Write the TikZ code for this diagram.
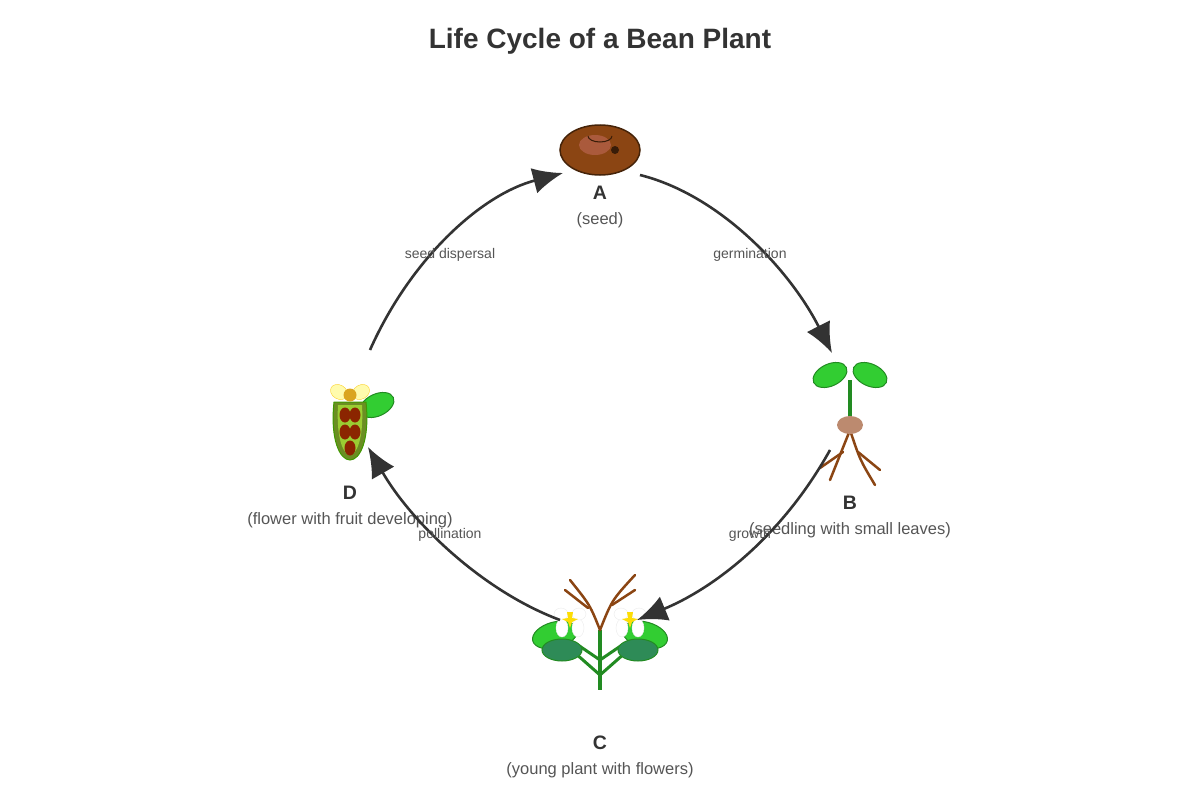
\documentclass[tikz,border=0pt]{standalone}
\usepackage{fontspec}
\setmainfont{Liberation Sans}
\usetikzlibrary{arrows.meta}
\definecolor{dk}{HTML}{333333}
\definecolor{gr}{HTML}{555555}
\definecolor{lg}{HTML}{32CD32}
\definecolor{sg}{HTML}{228B22}
\definecolor{dg}{HTML}{2E8B57}
\definecolor{br}{HTML}{8B4513}
\begin{document}
\begin{tikzpicture}[x=1pt,y=-1pt,
  cyc/.style={draw=dk,line width=2.6pt,-{Latex[length=30pt,width=26pt]}},
  lab/.style={text=gr,font=\fontsize{14}{16}\selectfont},
  let/.style={text=dk,font=\bfseries\fontsize{19.5}{22}\selectfont},
  desc/.style={text=gr,font=\fontsize{16.5}{19}\selectfont},
  leaf/.style={fill=lg,draw=sg,line width=1pt},
  dleaf/.style={fill=dg,draw=sg,line width=1pt},
  stem/.style={draw=sg,line width=4pt},
  root/.style={draw=br,line width=2.5pt,line cap=round}]
\useasboundingbox (0,0) rectangle (1200,800);
\node[text=dk,font=\bfseries\fontsize{28}{32}\selectfont] (title) at (600,41) {Life Cycle of a Bean Plant};
% Seed A
\fill[br,draw=black!50!br,line width=1.5pt] (600,150) ellipse [x radius=40,y radius=25];
\fill[color={rgb,255:red,170;green,90;blue,60}] (595,145) ellipse [x radius=16,y radius=10];
\fill[black!60!br] (615,150) circle (4);
\draw[black!60!br,line width=1pt] (588,136) arc (180:0:12 and 6);
\coordinate (a1) at (640,175); \coordinate (a2) at (563,173);
\node[let] (A) at (600,193) {A};
\node[desc] (Ad) at (600,220) {(seed)};
% Seedling B
\draw[stem] (850,380) -- (850,425);
\draw[leaf,rotate around={25:(830,375)}] (830,375) ellipse [x radius=18,y radius=11];
\draw[leaf,rotate around={-25:(870,375)}] (870,375) ellipse [x radius=18,y radius=11];
\draw[root] (850,430) -- (840,455) -- (830,480);
\draw[root] (850,430) .. controls (860,460) .. (875,485);
\draw[root] (843,452) -- (820,468);
\draw[root] (858,452) -- (880,470);
\fill[color={rgb,255:red,188;green,138;blue,111}] (850,425) ellipse [x radius=13,y radius=9];
\coordinate (b1) at (832,353); \coordinate (b2) at (830,450);
\node[let] (B) at (850,503) {B};
\node[desc] (Bd) at (850,530) {(seedling with small leaves)};
% Plant C
\draw[stem] (600,630) -- (600,690);
\draw[draw=sg,line width=3pt] (600,675) -- (575,653) (600,675) -- (625,653) (600,660) -- (578,645) (600,660) -- (622,645);
\draw[leaf,rotate around={15:(555,635)}] (555,635) ellipse [x radius=23,y radius=13];
\draw[leaf,rotate around={-15:(645,635)}] (645,635) ellipse [x radius=23,y radius=13];
\draw[dleaf] (562,650) ellipse [x radius=20,y radius=11];
\draw[dleaf] (638,650) ellipse [x radius=20,y radius=11];
\draw[root] (600,630) .. controls (590,605) .. (570,580);
\draw[root] (600,630) .. controls (612,600) .. (635,575);
\draw[root] (588,608) -- (565,590);
\draw[root] (612,605) -- (635,590);
\foreach \fx in {570,630}{
  \fill[white,draw=black!8] (\fx-8,628) ellipse [x radius=6,y radius=9];
  \fill[white,draw=black!8] (\fx+8,628) ellipse [x radius=6,y radius=9];
  \fill[white,draw=black!8] (\fx-9,614) ellipse [x radius=7,y radius=6];
  \fill[white,draw=black!8] (\fx+9,614) ellipse [x radius=7,y radius=6];
  \fill[yellow!80!orange] (\fx-3,612) -- (\fx+3,612) -- (\fx+2,618) -- (\fx+8,619) -- (\fx+2,622) -- (\fx,628) -- (\fx-2,622) -- (\fx-8,619) -- (\fx-2,618) -- cycle;
}
\coordinate (c1) at (637,620); \coordinate (c2) at (560,620);
\node[let] (C) at (600,743) {C};
\node[desc] (Cd) at (600,770) {(young plant with flowers)};
% D
\draw[leaf,rotate around={25:(377,405)}] (377,405) ellipse [x radius=18,y radius=11];
\fill[color={rgb,255:red,107;green,142;blue,35},draw=black!30!green!50!olive,line width=1pt] (334,402) .. controls (330,440) and (340,460) .. (350,460) .. controls (360,460) and (370,440) .. (366,402) -- cycle;
\fill[color={rgb,255:red,154;green,205;blue,50}] (338,405) .. controls (336,440) and (344,455) .. (350,455) .. controls (356,455) and (364,440) .. (362,405) -- cycle;
\foreach \sx/\sy in {345/415,355/415,345/432,355/432,350/448}
  \fill[color={rgb,255:red,139;green,37;blue,0}] (\sx,\sy) ellipse [x radius=5.5,y radius=7.5];
\fill[yellow!40,draw=yellow!60!orange,opacity=0.8,rotate around={-30:(339,392)}] (339,392) ellipse [x radius=9,y radius=7];
\fill[yellow!40,draw=yellow!60!orange,opacity=0.8,rotate around={30:(361,392)}] (361,392) ellipse [x radius=9,y radius=7];
\fill[color={rgb,255:red,218;green,165;blue,32}] (350,395) circle (6.5);
\coordinate (d1) at (368,447); \coordinate (d2) at (370,350);
\node[let] (D) at (350,493) {D};
\node[desc] (Dd) at (350,520) {(flower with fruit developing)};
% cycle
\draw[cyc] (a1) .. controls (720,195) and (790,270) .. (b1);
\draw[cyc] (b2) .. controls (780,540) and (710,590) .. (c1);
\draw[cyc] (c2) .. controls (480,590) and (410,520) .. (d1);
\draw[cyc] (d2) .. controls (410,260) and (480,195) .. (a2);
\node[lab] (l1) at (750,255) {germination};
\node[lab] (l2) at (750,535) {growth};
\node[lab] (l3) at (450,535) {pollination};
\node[lab] (l4) at (450,255) {seed dispersal};
\end{tikzpicture}
\end{document}
